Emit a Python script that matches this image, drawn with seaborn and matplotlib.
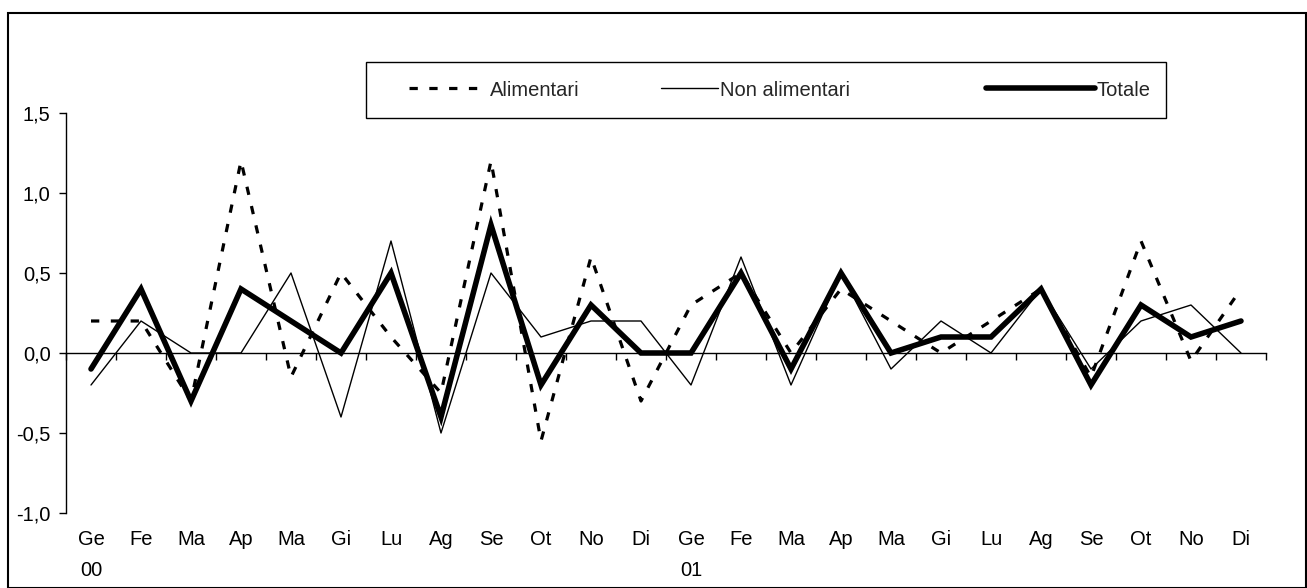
import numpy as np
import pandas as pd
import matplotlib
matplotlib.use("Agg")
import matplotlib.pyplot as plt
import seaborn as sns
from matplotlib.patches import Rectangle

months = ["Ge", "Fe", "Ma", "Ap", "Ma", "Gi", "Lu", "Ag", "Se", "Ot", "No", "Di",
          "Ge", "Fe", "Ma", "Ap", "Ma", "Gi", "Lu", "Ag", "Se", "Ot", "No", "Di"]
years = ["00", "", "", "", "", "", "", "", "", "", "", "",
         "01", "", "", "", "", "", "", "", "", "", "", ""]

alimentari = [0.2, 0.2, -0.3, 1.2, -0.15, 0.5, 0.1, -0.25, 1.2, -0.55, 0.6, -0.3,
              0.3, 0.5, 0.0, 0.4, 0.2, 0.0, 0.2, 0.4, -0.15, 0.7, -0.05, 0.4]
non_alimentari = [-0.2, 0.2, 0.0, 0.0, 0.5, -0.4, 0.7, -0.5, 0.5, 0.1, 0.2, 0.2,
                  -0.2, 0.6, -0.2, 0.5, -0.1, 0.2, 0.0, 0.4, -0.1, 0.2, 0.3, 0.0]
totale = [-0.1, 0.4, -0.3, 0.4, 0.2, 0.0, 0.5, -0.4, 0.8, -0.2, 0.3, 0.0,
          0.0, 0.5, -0.1, 0.5, 0.0, 0.1, 0.1, 0.4, -0.2, 0.3, 0.1, 0.2]

series_names = ["Alimentari", "Non alimentari", "Totale"]
y_ticks = [-1.0, -0.5, 0.0, 0.5, 1.0, 1.5]

sns.set_style("white")
plt.rcParams["font.family"] = ["Liberation Sans", "DejaVu Sans"]

FS = 14.5
W, H = 1307, 588
fig = plt.figure(figsize=(W / 100, H / 100), dpi=100)
ax = fig.add_axes([66 / W, 1 - 513 / H, 1200 / W, 400 / H])

x = np.arange(len(months))
df = pd.DataFrame({"x": x, "Alimentari": alimentari,
                   "Non alimentari": non_alimentari, "Totale": totale})

sns.lineplot(data=df, x="x", y="Alimentari", ax=ax, color="black",
             linewidth=2.3, linestyle=(0, (2.6, 3.6)), label=series_names[0], legend=False)
sns.lineplot(data=df, x="x", y="Non alimentari", ax=ax, color="black",
             linewidth=1.0, label=series_names[1], legend=False)
sns.lineplot(data=df, x="x", y="Totale", ax=ax, color="black",
             linewidth=4.0, label=series_names[2], solid_joinstyle="miter", legend=False)

ax.set_xlim(-0.5, len(months) - 0.5)
ax.set_ylim(-1.0, 1.5)
ax.set_xlabel("")
ax.set_ylabel("")

# y axis
ax.set_yticks(y_ticks)
ax.set_yticklabels([f"{v:.1f}".replace(".", ",") for v in y_ticks])
ax.tick_params(axis="y", direction="out", length=5, width=1, pad=6,
               labelsize=FS, colors="black", left=True)

for s in ["top", "right", "bottom"]:
    ax.spines[s].set_visible(False)
ax.spines["left"].set_color("black")
ax.spines["left"].set_linewidth(1.0)

# category labels at bottom
ax.set_xticks(x)
ax.set_xticklabels([m + "\n" + yv if yv else m + "\n " for m, yv in zip(months, years)],
                   linespacing=1.85, va="top")
ax.tick_params(axis="x", length=0, pad=12, labelsize=FS, colors="black", bottom=True)

# zero-line axis with boundary ticks
sec = ax.secondary_xaxis(0.4)
sec.set_xticks(np.arange(-0.5, len(months) + 0.5, 1.0))
sec.set_xticklabels([])
sec.tick_params(axis="x", direction="out", length=5, width=1, colors="black")
sec.spines["bottom"].set_color("black")
sec.spines["bottom"].set_linewidth(1.0)

# legend: framed box with three centred entries
lines = ax.get_lines()
handles = {ln.get_label(): ln for ln in lines if ln.get_label() in series_names}
leg_y = 1 - 90 / H
entry_cfg = [(494.5, 3.9), (755.5, 2.8), (1068.5, 5.4)]
legs = []
for name, (cx, hl) in zip(series_names, entry_cfg):
    lg = fig.legend([handles[name]], [name], loc="center",
                    bbox_to_anchor=(cx / W, leg_y), bbox_transform=fig.transFigure,
                    frameon=False, fontsize=FS, handlelength=hl,
                    handletextpad=0.1, borderpad=0.0, borderaxespad=0)
    legs.append(lg)
fig.patches.append(Rectangle((366 / W, 1 - 118 / H), 800 / W, 56 / H,
                             transform=fig.transFigure, fill=False,
                             edgecolor="black", linewidth=1.0))

# outer chart frame
fig.patches.append(Rectangle((8 / W, 0.0), (W - 9.5) / W, 1 - 13 / H,
                             transform=fig.transFigure, fill=False,
                             edgecolor="black", linewidth=1.5, clip_on=False))

fig.savefig("out.png", dpi=100, facecolor="white")
